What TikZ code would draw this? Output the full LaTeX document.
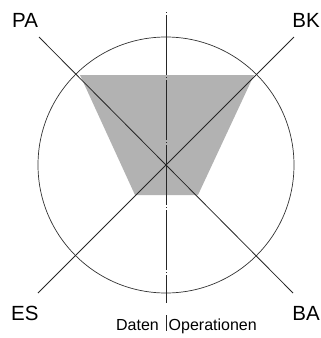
\documentclass[tikz,border=0pt]{standalone}
\usepackage{fontspec}
\setmainfont{Liberation Sans}
\usetikzlibrary{positioning}
\tikzset{
  axis/.style={line width=.8pt, black!85},
  ring/.style={line width=.7pt, black!80},
  field/.style={fill=black!30, draw=none},
  corner/.style={font=\fontsize{20.5}{22}\selectfont, inner sep=0pt},
  side/.style={font=\fontsize{16}{18}\selectfont, inner sep=0pt},
  mid/.style={line width=.8pt, black!85,
    dash pattern=on 60pt off 2pt on 1pt off 2pt, dash phase=-5pt}
}
\begin{document}
\begin{tikzpicture}[x=1pt,y=-1pt]
\useasboundingbox (0,0) rectangle (321,338);

% ------------------------------------------------------------------
% shaded field
% ------------------------------------------------------------------
\coordinate (fTL) at (80,75);
\coordinate (fTR) at (254,75);
\coordinate (fBR) at (198,195);
\coordinate (fBL) at (135,195);
\fill[field] (fTL) -- (fTR) -- (fBR) -- (fBL) -- cycle;

% ------------------------------------------------------------------
% circle and axes
% ------------------------------------------------------------------
\coordinate (centre) at (166,165);
\draw[ring] (centre) circle[radius=128];

\coordinate (endPA) at (39,37);
\coordinate (endBA) at (293,293);
\coordinate (endBK) at (294,37);
\coordinate (endES) at (38,293);
\coordinate (midTop) at (166.5,10);
\coordinate (midBot) at (166.5,303);

\draw[axis] (endPA) -- (endBA);
\draw[axis] (endBK) -- (endES);
\draw[mid] (midTop) -- (midBot);

% ------------------------------------------------------------------
% labels
% ------------------------------------------------------------------
\node[corner, anchor=base west] (PA) at (12,27) {PA};
\node[corner, anchor=base east] (BK) at (320,27) {BK};
\node[corner, anchor=base west] (ES) at (11,320) {ES};
\node[corner, anchor=base east] (BA) at (320,320) {BA};

\coordinate (divTop) at (166,315);
\coordinate (divBot) at (166,331);
\draw[axis] (divTop) -- (divBot);
\node[side, anchor=base east] (daten) at (159,330) {Daten};
\node[side, anchor=base west] (ops) at (168.5,330) {Operationen};

\end{tikzpicture}
\end{document}
